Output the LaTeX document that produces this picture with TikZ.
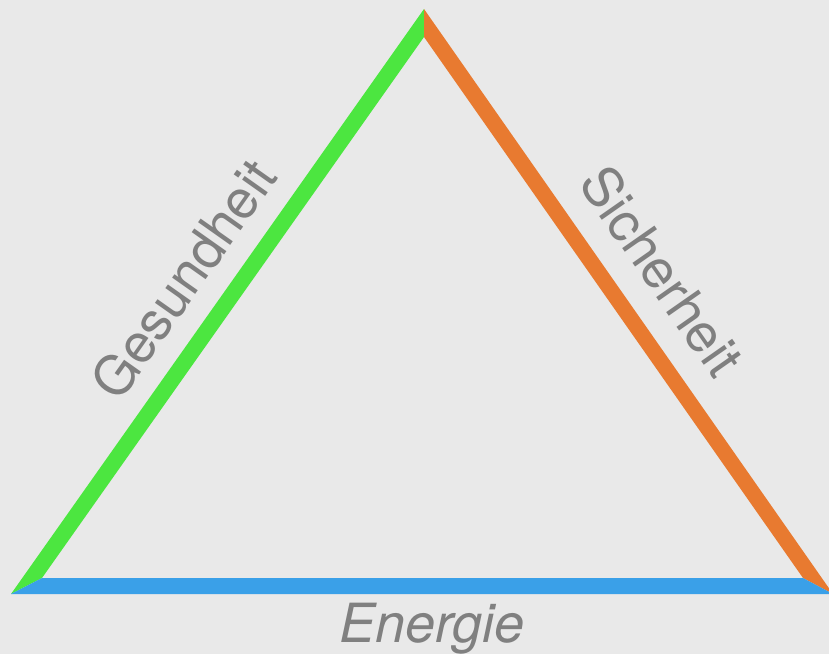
\documentclass[tikz,border=0pt]{standalone}
\usepackage{fontspec}
\setmainfont{TeX Gyre Heros}
\begin{document}
\begin{tikzpicture}[x=1pt,y=-1pt,
  lbl/.style={text=labelgray,font=\fontsize{54}{62}\selectfont,inner sep=0pt}]
\definecolor{bg}{HTML}{E9E9E9}
\definecolor{sgreen}{HTML}{4CE640}
\definecolor{sorange}{HTML}{E87A30}
\definecolor{sblue}{HTML}{3AA0E8}
\definecolor{labelgray}{HTML}{808080}
\fill[bg] (0,0) rectangle (829,654);
\useasboundingbox (0,0) rectangle (829,654);
% outer vertices
\coordinate (A) at (424,9);
\coordinate (B) at (11,594);
\coordinate (C) at (833,594);
% inner vertices
\coordinate (Ai) at (424,37);
\coordinate (Bi) at (42,578);
\coordinate (Ci) at (803,578);
\fill[sgreen] (A) -- (B) -- (Bi) -- (Ai) -- cycle;
\fill[sorange] (A) -- (C) -- (Ci) -- (Ai) -- cycle;
\fill[sblue] (B) -- (C) -- (Ci) -- (Bi) -- cycle;
\node[lbl,rotate=54.78] (g) at (183,279) {Gesundheit};
\node[lbl,rotate=-55.04] (s) at (662,271) {Sicherheit};
\node[lbl,anchor=base,font=\fontsize{54}{62}\selectfont\itshape] (e) at (432,642) {Energie};
\end{tikzpicture}
\end{document}
